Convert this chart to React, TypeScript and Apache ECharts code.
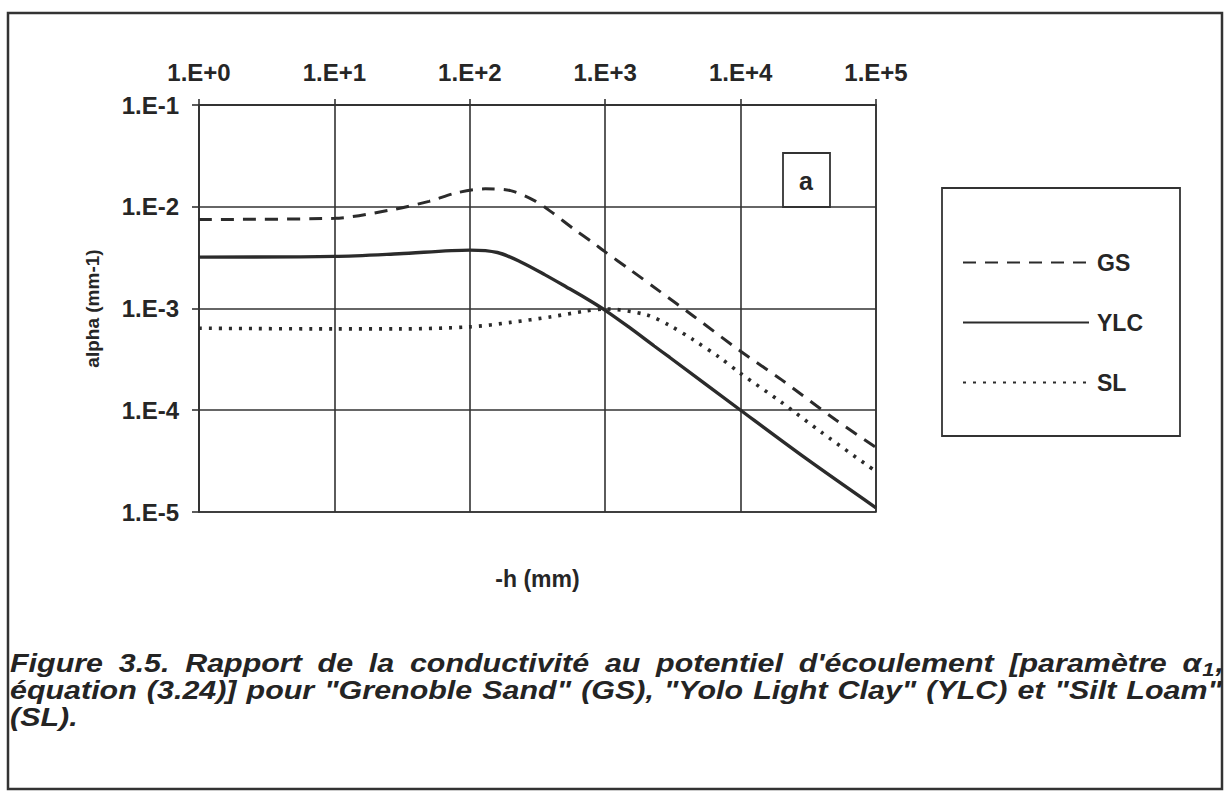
import React, { useEffect, useRef } from 'react';
import * as echarts from 'echarts';

const W = 1229;
const H = 807;
const FONT = "'Liberation Sans', Arial, sans-serif";
const INK = '#2b2b2b';

// ---- data ----
const xTickLabels = ['1.E+0', '1.E+1', '1.E+2', '1.E+3', '1.E+4', '1.E+5'];
const yTickLabels = ['1.E-5', '1.E-4', '1.E-3', '1.E-2', '1.E-1'];

const seriesNames = ['GS', 'YLC', 'SL'];

const gsH = [1, 10, 25, 50, 80, 130, 200, 300, 400, 600, 800, 1000, 1500, 2500, 4500, 10000, 20000, 50000, 100000];
const gsAlpha = [7.5e-3, 7.7e-3, 9.2e-3, 1.13e-2, 1.37e-2, 1.5e-2, 1.44e-2, 1.15e-2, 8.9e-3, 5.9e-3, 4.5e-3, 3.6e-3, 2.45e-3, 1.49e-3, 8.4e-4, 3.8e-4, 2.0e-4, 8.1e-5, 4.3e-5];

const ylcH = [1, 10, 30, 100, 160, 240, 360, 520, 720, 1000, 1500, 2300, 3000, 10000, 30000, 100000];
const ylcAlpha = [3.2e-3, 3.25e-3, 3.45e-3, 3.75e-3, 3.55e-3, 2.85e-3, 2.14e-3, 1.62e-3, 1.26e-3, 9.6e-4, 6.55e-4, 4.28e-4, 3.3e-4, 1.0e-4, 3.4e-5, 1.1e-5];

const slH = [1, 10, 30, 100, 200, 400, 700, 1000, 2000, 3000, 4500, 7000, 10000, 20000, 40000, 100000];
const slAlpha = [6.4e-4, 6.3e-4, 6.3e-4, 6.6e-4, 7.3e-4, 8.3e-4, 9.4e-4, 9.9e-4, 8.7e-4, 6.8e-4, 4.9e-4, 3.3e-4, 2.3e-4, 1.2e-4, 6.0e-5, 2.5e-5];

const xAxisName = '-h (mm)';
const yAxisName = 'alpha (mm-1)';
const panelLabel = 'a';
const captionLine1 = ['Figure', '3.5.', 'Rapport', 'de', 'la', 'conductivité', 'au', 'potentiel', "d'écoulement", '[paramètre'];
const captionAlpha = ['α', '1', ','];
const captionLine2 = ['équation', '(3.24)]', 'pour', '"Grenoble', 'Sand"', '(GS),', '"Yolo', 'Light', 'Clay"', '(YLC)', 'et', '"Silt', 'Loam"'];
const captionLine3 = '(SL).';

function zip(xs: number[], ys: number[]) {
  return xs.map((x, i) => [x, ys[i]]);
}

function measure(ctx: CanvasRenderingContext2D, text: string, size: number) {
  ctx.font = `italic bold ${size}px ${FONT}`;
  return ctx.measureText(text).width;
}

function buildCaption(): any[] {
  const canvas = document.createElement('canvas');
  const ctx = canvas.getContext('2d') as CanvasRenderingContext2D;
  const size = 25;
  const subSize = 18;
  const x0 = 10;
  const x1 = 1222;
  const span = x1 - x0;
  const els: any[] = [];
  const widths2 = captionLine2.map((w) => measure(ctx, w, size));
  const sum2 = widths2.reduce((a, b) => a + b, 0);
  // horizontal stretch so that line 2 fits with ~10px word gaps
  const sx = (span - 10 * (captionLine2.length - 1)) / sum2;
  const txt = (text: string, x: number, y: number, fs = size) => ({
    type: 'text',
    x,
    y,
    scaleX: sx,
    style: {
      text,
      fill: '#242424',
      font: `italic bold ${fs}px ${FONT}`,
      textAlign: 'left',
      textVerticalAlign: 'middle',
    },
  });
  // line 1 (justified, ends with α₁,)
  const y1 = 663;
  const wA = measure(ctx, captionAlpha[0], size) * sx;
  const w1 = measure(ctx, captionAlpha[1], subSize) * sx;
  const wc = measure(ctx, captionAlpha[2], size) * sx;
  const widths1 = captionLine1.map((w) => measure(ctx, w, size) * sx);
  const total1 = widths1.reduce((a, b) => a + b, 0) + wA + w1 + wc;
  const gap1 = (span - total1) / captionLine1.length;
  let x = x0;
  captionLine1.forEach((w, i) => {
    els.push(txt(w, x, y1));
    x += widths1[i] + gap1;
  });
  els.push(txt(captionAlpha[0], x, y1));
  els.push(txt(captionAlpha[1], x + wA + 1, y1 + 7, subSize));
  els.push(txt(captionAlpha[2], x + wA + w1 + 2, y1));
  // line 2 (justified)
  const y2 = 690;
  const gap2 = (span - sum2 * sx) / (captionLine2.length - 1);
  x = x0;
  captionLine2.forEach((w, i) => {
    els.push(txt(w, x, y2));
    x += widths2[i] * sx + gap2;
  });
  // line 3
  els.push(txt(captionLine3, x0, 717));
  return els;
}

export default function App() {
  const ref = useRef<HTMLDivElement>(null);

  useEffect(() => {
    document.body.style.margin = '0';
    const chart = echarts.init(ref.current as HTMLDivElement, null, { renderer: 'svg' });
    const gridLeft = 199;
    const gridTop = 105;
    const gridW = 677;
    const gridH = 407;

    const xLabel = (v: number) => xTickLabels[Math.round(Math.log10(v))] ?? '';
    const yLabel = (v: number) => yTickLabels[Math.round(Math.log10(v)) + 5] ?? '';
    const axisColor = '#333';

    const option: any = {
      animation: false,
      backgroundColor: '#ffffff',
      grid: {
        left: gridLeft,
        top: gridTop,
        width: gridW,
        height: gridH,
        show: true,
        borderColor: axisColor,
        borderWidth: 1.6,
      },
      xAxis: {
        type: 'log',
        logBase: 10,
        min: 1,
        max: 100000,
        position: 'top',
        axisLine: { show: true, lineStyle: { color: axisColor, width: 1.6 } },
        axisTick: { show: true, length: 6, lineStyle: { color: axisColor, width: 1.6 } },
        minorTick: { show: false },
        splitLine: { show: true, lineStyle: { color: axisColor, width: 1.6 } },
        axisLabel: {
          formatter: xLabel,
          margin: 21,
          color: '#262626',
          fontFamily: FONT,
          fontWeight: 'bold',
          fontSize: 24,
        },
      },
      yAxis: {
        type: 'log',
        logBase: 10,
        min: 1e-5,
        max: 1e-1,
        name: yAxisName,
        nameLocation: 'middle',
        nameGap: 97,
        nameRotate: 90,
        nameTextStyle: { color: '#262626', fontFamily: FONT, fontWeight: 'bold', fontSize: 19 },
        axisLine: { show: true, lineStyle: { color: axisColor, width: 1.6 } },
        axisTick: { show: true, length: 7, lineStyle: { color: axisColor, width: 1.6 } },
        splitLine: { show: true, lineStyle: { color: axisColor, width: 1.6 } },
        axisLabel: {
          formatter: yLabel,
          margin: 20,
          color: '#262626',
          fontFamily: FONT,
          fontWeight: 'bold',
          fontSize: 24,
        },
      },
      legend: {
        orient: 'vertical',
        left: 957,
        top: 246,
        itemWidth: 126,
        itemHeight: 22,
        itemGap: 37,
        data: seriesNames,
        itemStyle: { opacity: 0 },
        textStyle: { color: '#262626', fontFamily: FONT, fontWeight: 'bold', fontSize: 23, padding: [0, 0, 0, 3] },
      },
      series: [
        {
          name: seriesNames[0],
          type: 'line',
          data: zip(gsH, gsAlpha),
          smooth: 0.3,
          symbol: 'none',
          color: INK,
          lineStyle: { color: INK, width: 3, type: [13, 9] },
        },
        {
          name: seriesNames[1],
          type: 'line',
          data: zip(ylcH, ylcAlpha),
          smooth: 0.3,
          symbol: 'none',
          color: INK,
          lineStyle: { color: INK, width: 3.4, type: 'solid' },
        },
        {
          name: seriesNames[2],
          type: 'line',
          data: zip(slH, slAlpha),
          smooth: 0.3,
          symbol: 'none',
          color: INK,
          lineStyle: { color: INK, width: 3.6, type: [3, 7] },
        },
      ],
      graphic: [
        {
          type: 'rect',
          shape: { x: 8, y: 13, width: 1214, height: 776 },
          style: { fill: 'none', stroke: '#333', lineWidth: 2.5 },
        },
        {
          type: 'rect',
          shape: { x: 942, y: 188, width: 238, height: 248 },
          style: { fill: 'none', stroke: '#333', lineWidth: 1.8 },
        },
        {
          type: 'rect',
          shape: { x: 783, y: 153, width: 47, height: 54 },
          style: { fill: '#fff', stroke: '#333', lineWidth: 1.8 },
        },
        {
          type: 'text',
          x: 806,
          y: 181,
          style: {
            text: panelLabel,
            fill: '#262626',
            font: `bold 25px ${FONT}`,
            textAlign: 'center',
            textVerticalAlign: 'middle',
          },
        },
        {
          type: 'text',
          x: gridLeft + gridW / 2,
          y: 579,
          style: {
            text: xAxisName,
            fill: '#262626',
            font: `bold 23px ${FONT}`,
            textAlign: 'center',
            textVerticalAlign: 'middle',
          },
        },
        ...buildCaption(),
      ],
    };
    chart.setOption(option);
    return () => chart.dispose();
  }, []);

  return (
    <div
      ref={ref}
      style={{ position: 'absolute', left: 0, top: 0, width: W, height: H, background: '#fff' }}
    />
  );
}
